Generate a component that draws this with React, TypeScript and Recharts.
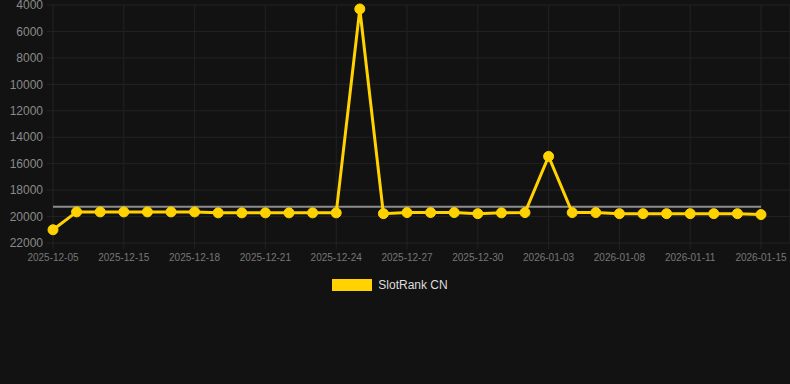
import {
  LineChart,
  Line,
  XAxis,
  YAxis,
  CartesianGrid,
  Legend,
  ReferenceLine,
} from 'recharts';

// ── Data ────────────────────────────────────────────────
const dates = [
  '2025-12-05', '2025-12-13', '2025-12-14', '2025-12-15', '2025-12-16',
  '2025-12-17', '2025-12-18', '2025-12-19', '2025-12-20', '2025-12-21',
  '2025-12-22', '2025-12-23', '2025-12-24', '2025-12-25', '2025-12-26',
  '2025-12-27', '2025-12-28', '2025-12-29', '2025-12-30', '2025-12-31',
  '2026-01-01', '2026-01-03', '2026-01-05', '2026-01-07', '2026-01-08',
  '2026-01-09', '2026-01-10', '2026-01-11', '2026-01-13', '2026-01-14',
  '2026-01-15',
];

const rankCN = [
  21000, 19650, 19650, 19650, 19650, 19650, 19650, 19720, 19720, 19720,
  19720, 19720, 19720, 4300, 19780, 19700, 19700, 19700, 19780, 19720,
  19700, 15450, 19700, 19700, 19780, 19780, 19780, 19780, 19780, 19780,
  19850,
];

const yTicks = [4000, 6000, 8000, 10000, 12000, 14000, 16000, 18000, 20000, 22000];
const averageRank = 19250;

const data = dates.map((date, i) => ({ date, value: rankCN[i] }));

// ── Colors ──────────────────────────────────────────────
const BG = '#121212';
const YELLOW = '#FFD200';
const GRID = '#232323';

function LegendContent() {
  return (
    <div
      style={{
        display: 'flex',
        justifyContent: 'center',
        alignItems: 'center',
        fontFamily: 'Arial, "Liberation Sans", sans-serif',
        fontSize: 12,
        color: '#dddddd',
        paddingRight: 10,
      }}
    >
      <span
        style={{
          display: 'inline-block',
          width: 40,
          height: 12,
          background: YELLOW,
          marginRight: 6,
        }}
      />
      <span>SlotRank CN</span>
    </div>
  );
}

export default function App() {
  return (
    <div
      style={{
        position: 'absolute',
        top: 0,
        left: 0,
        width: 790,
        height: 384,
        background: BG,
        fontFamily: 'Arial, "Liberation Sans", sans-serif',
      }}
    >
      <LineChart
        width={790}
        height={384}
        data={data}
        margin={{ top: 5, right: 0, bottom: 111, left: 0 }}
      >
        <CartesianGrid stroke={GRID} strokeWidth={1} />
        <XAxis
          dataKey="date"
          interval={2}
          height={30}
          padding={{ left: 0, right: 29 }}
          axisLine={false}
          tickLine={{ stroke: GRID }}
          tickMargin={5}
          tick={{ fill: '#777777', fontSize: 10 }}
        />
        <YAxis
          width={53}
          reversed
          domain={[4000, 22000]}
          ticks={yTicks}
          interval={0}
          axisLine={false}
          tickLine={{ stroke: GRID }}
          tickMargin={4}
          tick={{ fill: '#8a8a8a', fontSize: 12 }}
        />
        <ReferenceLine
          segment={[
            { x: dates[0], y: averageRank },
            { x: dates[dates.length - 1], y: averageRank },
          ]}
          stroke="#8c8c8c"
          strokeWidth={2}
        />
        <Line
          type="linear"
          dataKey="value"
          name="SlotRank CN"
          stroke={YELLOW}
          strokeWidth={3}
          dot={{ r: 5, fill: YELLOW, stroke: YELLOW, strokeWidth: 1 }}
          activeDot={false}
          isAnimationActive={false}
        />
        <Legend
          verticalAlign="middle"
          layout="horizontal"
          content={<LegendContent />}
          wrapperStyle={{ top: 278, left: 0, width: 790 }}
        />
      </LineChart>
    </div>
  );
}
